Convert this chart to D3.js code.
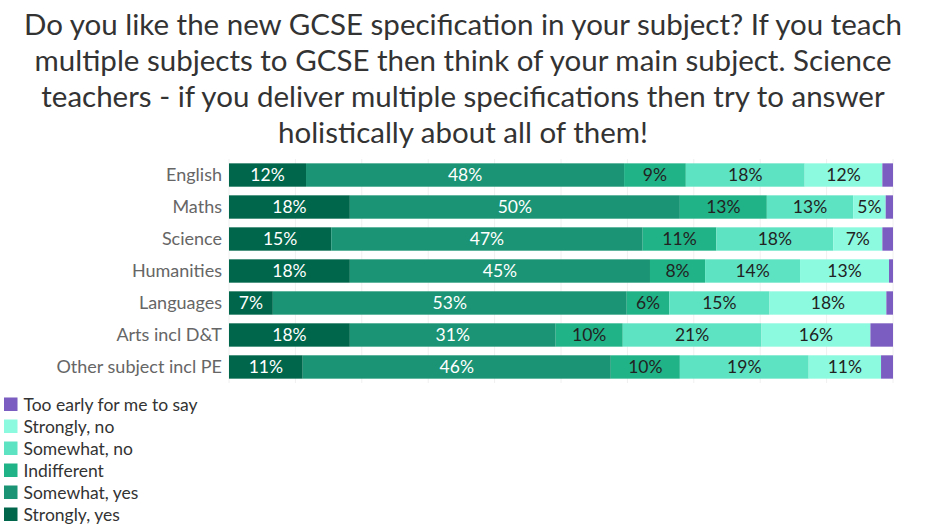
<!DOCTYPE html>
<html>
<head>
<meta charset="utf-8">
<script src="https://cdn.jsdelivr.net/npm/d3@7"></script>
<style>
  body { margin: 0; background: #fff; font-family: Lato, "Open Sans", sans-serif; }
</style>
</head>
<body>
<div id="chart"></div>
<script>
// chart data
var subjects = ["English", "Maths", "Science", "Humanities", "Languages", "Arts incl D&T", "Other subject incl PE"];
var answers = ["Strongly, yes", "Somewhat, yes", "Indifferent", "Somewhat, no", "Strongly, no", "Too early for me to say"];
var stronglyYes = [11.6, 18.2, 15.4, 18.2, 6.6, 18.2, 11.1];
var somewhatYes = [47.9, 49.7, 46.9, 45.2, 53.3, 31.0, 46.4];
var indifferent = [9.3, 13.1, 11.1, 8.3, 6.4, 10.1, 10.4];
var somewhatNo = [17.9, 13.0, 17.6, 14.3, 15.1, 20.9, 19.4];
var stronglyNo = [11.7, 4.9, 7.4, 13.4, 17.6, 16.4, 10.9];
var tooEarly = [1.6, 1.1, 1.6, 0.6, 1.0, 3.4, 1.8];
var gridTicks = [0, 10, 20, 30, 40, 50, 60, 70, 80, 90, 100];

var colors = ["#00664b", "#1a9474", "#20b387", "#5ee3c2", "#8cfadf", "#7b5cc0"];
var labelColors = ["#fff", "#fff", "#222", "#222", "#222", "#222"];

var titleLines = [
  "Do you like the new GCSE specification in your subject? If you teach",
  "multiple subjects to GCSE then think of your main subject. Science",
  "teachers - if you deliver multiple specifications then try to answer",
  "holistically about all of them!"
];

var width = 926, height = 525;
var margin = {top: 155, left: 229, right: 33};

var svg = d3.select("#chart")
    .append("svg")
    .attr("width", width)
    .attr("height", height);

// title
svg.append("g")
    .selectAll("text")
    .data(titleLines)
    .enter().append("text")
    .attr("x", width / 2)
    .attr("y", function(d, i) { return 35 + i * 36; })
    .attr("text-anchor", "middle")
    .attr("font-size", "29.5px")
    .attr("fill", "#333")
    .text(function(d) { return d; });

// build rows
var series = [stronglyYes, somewhatYes, indifferent, somewhatNo, stronglyNo, tooEarly];
var rows = subjects.map(function(s, i) {
  var row = {subject: s};
  answers.forEach(function(a, j) { row[a] = series[j][i]; });
  return row;
});
var stacked = d3.stack().keys(answers)(rows);

var x = d3.scaleLinear()
    .domain([0, 100])
    .range([margin.left, width - margin.right]);

var y = d3.scaleBand()
    .domain(subjects)
    .range([154.7, 387.3])
    .padding(0.27);

// faint gridlines
svg.append("g")
    .selectAll("line")
    .data(gridTicks)
    .enter().append("line")
    .attr("x1", function(d) { return x(d); })
    .attr("x2", function(d) { return x(d); })
    .attr("y1", 159)
    .attr("y2", 383)
    .attr("stroke", "#f0f0f0")
    .attr("stroke-width", 1);

// category axis
var yAxis = d3.axisLeft(y).tickSize(0).tickPadding(7);
var yG = svg.append("g")
    .attr("transform", "translate(" + margin.left + ",0)")
    .call(yAxis);
yG.select(".domain").remove();
yG.selectAll("text")
    .attr("font-family", "Lato, sans-serif")
    .attr("font-size", "18px")
    .attr("fill", "#666");

// stacked bars
var layers = svg.append("g")
    .selectAll("g")
    .data(stacked)
    .enter().append("g")
    .attr("fill", function(d, i) { return colors[i]; });

layers.selectAll("rect")
    .data(function(d) { return d; })
    .enter().append("rect")
    .attr("x", function(d) { return x(d[0]); })
    .attr("y", function(d) { return y(d.data.subject); })
    .attr("width", function(d) { return x(d[1]) - x(d[0]); })
    .attr("height", y.bandwidth());

// value labels
var fmt = d3.format(".0f");
stacked.forEach(function(layer, i) {
  if (i === 5) return;
  svg.append("g")
    .selectAll("text")
    .data(layer)
    .enter().append("text")
    .attr("x", function(d) { return (x(d[0]) + x(d[1])) / 2; })
    .attr("y", function(d) { return y(d.data.subject) + y.bandwidth() / 2; })
    .attr("dy", "0.36em")
    .attr("text-anchor", "middle")
    .attr("font-size", "17.5px")
    .attr("fill", labelColors[i])
    .text(function(d) { return fmt(d[1] - d[0]) + "%"; });
});

// legend, reversed order
var legendItems = answers.slice().reverse();
var legend = svg.append("g")
    .selectAll("g")
    .data(legendItems)
    .enter().append("g")
    .attr("transform", function(d, i) { return "translate(4," + (397.5 + i * 22) + ")"; });

legend.append("rect")
    .attr("width", 13.5)
    .attr("height", 13.5)
    .attr("fill", function(d) { return colors[answers.indexOf(d)]; });

legend.append("text")
    .attr("x", 19.5)
    .attr("y", 13)
    .attr("font-size", "17.5px")
    .attr("fill", "#333")
    .text(function(d) { return d; });
</script>
</body>
</html>
